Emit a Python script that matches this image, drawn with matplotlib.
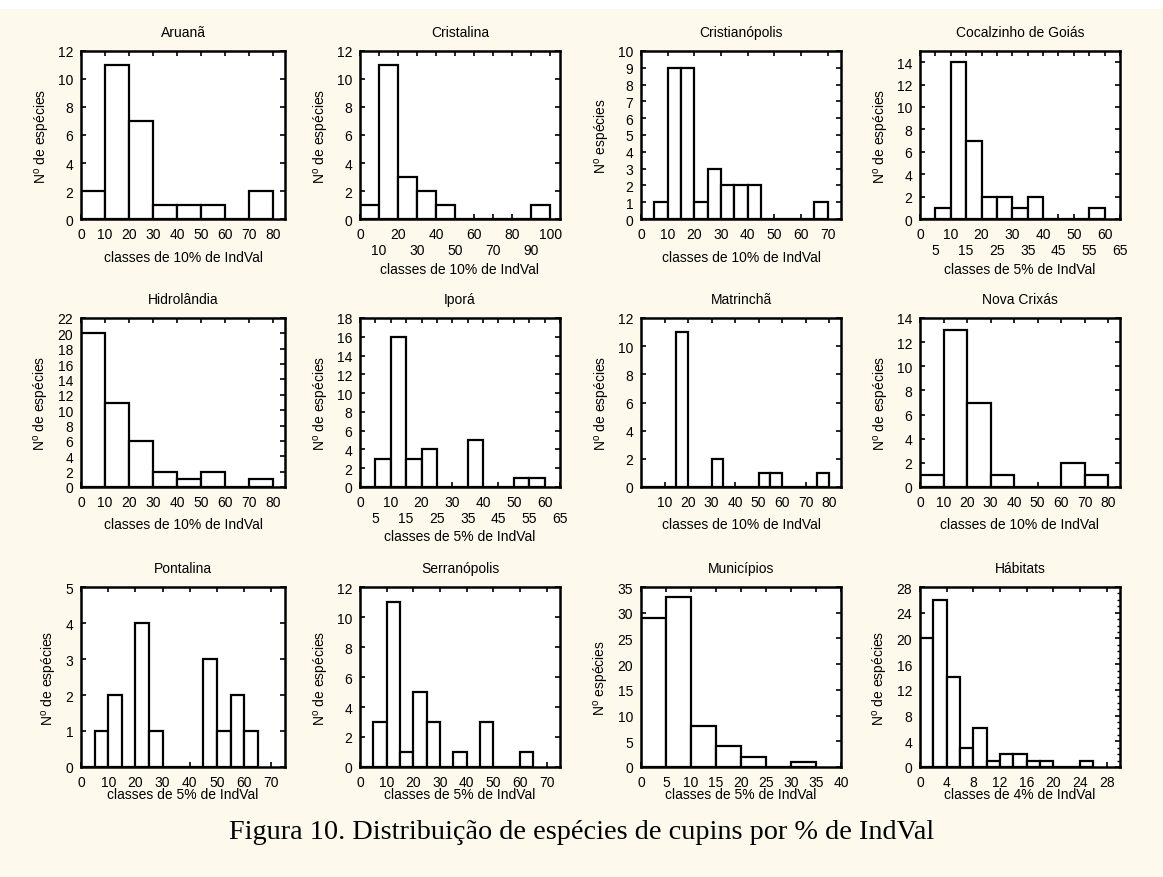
import matplotlib
matplotlib.use("Agg")
import matplotlib.pyplot as plt
from matplotlib.patches import Rectangle
from matplotlib.ticker import MultipleLocator

plt.rcParams['font.family'] = ['Liberation Sans', 'DejaVu Sans']
plt.rcParams['mathtext.fontset'] = 'custom'
plt.rcParams['mathtext.rm'] = 'Liberation Sans'
plt.rcParams['mathtext.it'] = 'Liberation Sans:italic'

# ---------------- data ----------------
titles = ["Aruanã", "Cristalina", "Cristianópolis", "Cocalzinho de Goiás",
          "Hidrolândia", "Iporá", "Matrinchã", "Nova Crixás",
          "Pontalina", "Serranópolis", "Municípios", "Hábitats"]

aruana_counts = [2, 11, 7, 1, 1, 1, 0, 2]                       # 0-80 step 10
cristalina_counts = [1, 11, 3, 2, 1, 0, 0, 0, 0, 1]              # 0-100 step 10
cristianopolis_counts = [0, 1, 9, 9, 1, 3, 2, 2, 2, 0, 0, 0, 0, 1]  # 0-70 step 5
cocalzinho_counts = [0, 1, 14, 7, 2, 2, 1, 2, 0, 0, 0, 1]        # 0-60 step 5
hidrolandia_counts = [20, 11, 6, 2, 1, 2, 0, 1]                  # 0-80 step 10
ipora_counts = [0, 3, 16, 3, 4, 0, 0, 5, 0, 0, 1, 1]             # 0-60 step 5
matrincha_counts = [0, 0, 0, 11, 0, 0, 2, 0, 0, 0, 1, 1, 0, 0, 0, 1]  # 0-80 step 5
nova_crixas_counts = [1, 13, 7, 1, 0, 0, 2, 1]                   # 0-80 step 10
pontalina_counts = [0, 1, 2, 0, 4, 1, 0, 0, 0, 3, 1, 2, 1]       # 0-65 step 5
serranopolis_counts = [0, 3, 11, 1, 5, 3, 0, 1, 0, 3, 0, 0, 1]   # 0-65 step 5
municipios_counts = [29, 33, 8, 4, 2, 0, 1]                      # 0-35 step 5
habitats_counts = [20, 26, 14, 3, 6, 1, 2, 2, 1, 1, 0, 0, 1]     # 0-26 step 2

all_counts = [aruana_counts, cristalina_counts, cristianopolis_counts, cocalzinho_counts,
              hidrolandia_counts, ipora_counts, matrincha_counts, nova_crixas_counts,
              pontalina_counts, serranopolis_counts, municipios_counts, habitats_counts]
bin_widths = [10, 10, 5, 5, 10, 5, 5, 10, 5, 5, 5, 2]

xlabels = ["classes de 10% de IndVal", "classes de 10% de IndVal", "classes de 10% de IndVal",
           "classes de 5% de IndVal", "classes de 10% de IndVal", "classes de 5% de IndVal",
           "classes de 10% de IndVal", "classes de 10% de IndVal", "classes de 5% de IndVal",
           "classes de 5% de IndVal", "classes de 5% de IndVal", "classes de 4% de IndVal"]
ylabels = ["de espécies", "de espécies", "espécies", "de espécies",
           "de espécies", "de espécies", "de espécies", "de espécies",
           "de espécies", "de espécies", "espécies", "de espécies"]

x_max = [85, 105, 75, 65, 85, 65, 85, 85, 75, 75, 40, 30]
y_max = [12, 12, 10, 15, 22, 18, 12, 14, 5, 12, 35, 28]
y_step = [2, 2, 1, 2, 2, 2, 2, 2, 1, 2, 5, 4]
y_top_tick = [12, 12, 10, 14, 22, 18, 12, 14, 5, 12, 35, 28]
x_ticks = [list(range(0, 81, 10)), list(range(0, 101, 10)), list(range(0, 71, 10)),
           list(range(0, 66, 5)), list(range(0, 81, 10)), list(range(0, 66, 5)),
           list(range(10, 81, 10)), list(range(0, 81, 10)), list(range(0, 71, 10)),
           list(range(0, 71, 10)), list(range(0, 41, 5)), list(range(0, 29, 4))]
staggered = [False, True, False, True, False, True, False, False, False, False, False, False]

caption = "Figura 10. Distribuição de espécies de cupins por % de IndVal"

# ---------------- layout (pixels) ----------------
W, H = 1163, 878
col_lr = [(81, 285), (360, 560), (641, 841), (920, 1120)]
row_tb = [(52, 220), (319, 488), (588, 768)]
row_labelpad = [6.5, 6.0, -1.0]

cream = '#FDF9EC'
fig = plt.figure(figsize=(W / 100, H / 100), dpi=100, facecolor='white')
fig.patches.append(Rectangle((0, 0), 1, 1 - 10 / H, transform=fig.transFigure,
                             facecolor=cream, edgecolor='none', zorder=-10))

for i in range(12):
    r, c = divmod(i, 4)
    l, rr = col_lr[c]
    t, b = row_tb[r]
    ax = fig.add_axes([l / W, 1 - b / H, (rr - l) / W, (b - t) / H])
    ax.set_facecolor('white')
    counts = all_counts[i]
    w = bin_widths[i]
    lefts = [k * w for k in range(len(counts))]
    ax.bar(lefts, counts, width=w, align='edge', facecolor='white',
           edgecolor='black', linewidth=1.6, zorder=2)
    ax.set_xlim(0, x_max[i])
    ax.set_ylim(0, y_max[i])
    ax.set_yticks(list(range(0, y_top_tick[i] + 1, y_step[i])))
    ax.set_xticks(x_ticks[i])
    lp = row_labelpad[r]
    if staggered[i]:
        labs = [str(v) if k % 2 == 0 else "\n" + str(v) for k, v in enumerate(x_ticks[i])]
        ax.set_xticklabels(labs)
        lp -= 3
    ax.tick_params(direction='in', top=True, right=True, length=3.5, width=1.2,
                   labelsize=10, pad=5.5)
    if i == 11:
        ax.yaxis.set_minor_locator(MultipleLocator(1))
        ax.tick_params(which='minor', direction='in', left=False, right=True,
                       length=2, width=1)
    for s in ax.spines.values():
        s.set_linewidth(1.8)
        s.set_zorder(3)
    ax.set_title(titles[i], fontsize=10, pad=10.5)
    ax.set_xlabel(xlabels[i], fontsize=10, labelpad=lp)
    ax.set_ylabel(r"N$^{\mathrm{o}}$ " + ylabels[i], fontsize=10, labelpad=4.5)

fig.text(0.5, 1 - 833 / H, caption, ha='center', va='center',
         fontsize=20.3, family=['Liberation Serif', 'DejaVu Serif'])

fig.savefig("out.png", dpi=100, facecolor=fig.get_facecolor())
